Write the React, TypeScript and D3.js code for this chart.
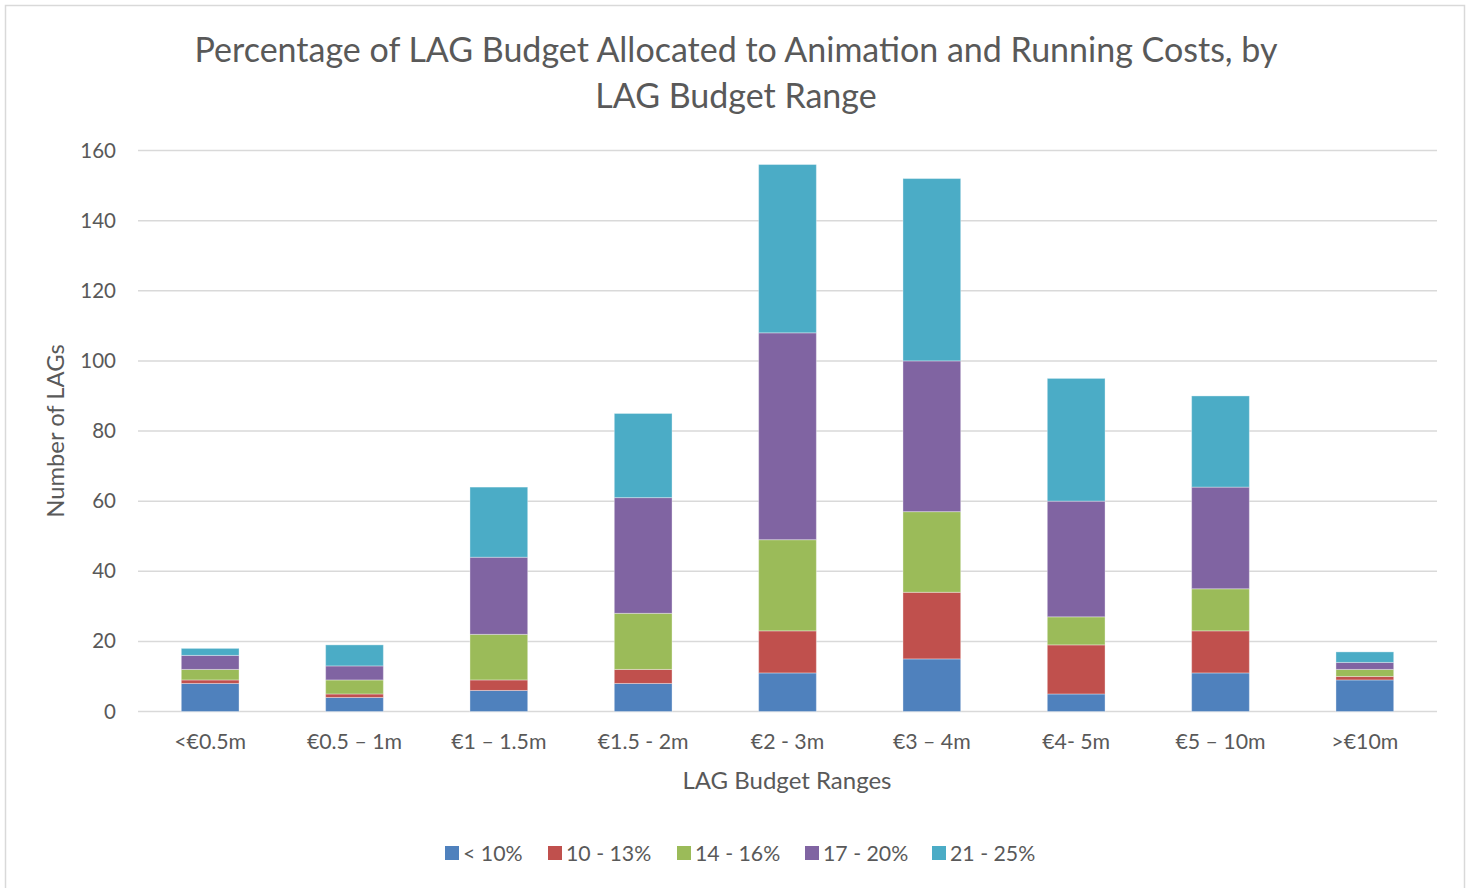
import React from "react";
import * as d3 from "d3";

const categories = ["<€0.5m", "€0.5 – 1m", "€1 – 1.5m", "€1.5 - 2m", "€2 - 3m", "€3 – 4m", "€4- 5m", "€5 – 10m", ">€10m"];
const seriesNames = ["< 10%", "10 - 13%", "14 - 16%", "17 - 20%", "21 - 25%"];
const seriesColors = ["#4f81bd", "#c0504d", "#9bbb59", "#8064a2", "#4bacc6"];
const lt10 = [8, 4, 6, 8, 11, 15, 5, 11, 9];
const s10to13 = [1, 1, 3, 4, 12, 19, 14, 12, 1];
const s14to16 = [3, 4, 13, 16, 26, 23, 8, 12, 2];
const s17to20 = [4, 4, 22, 33, 59, 43, 33, 29, 2];
const s21to25 = [2, 6, 20, 24, 48, 52, 35, 26, 3];
const yTicks = [0, 20, 40, 60, 80, 100, 120, 140, 160];

const W = 1470, H = 888;
const plot = { left: 138, right: 1437, top: 150.5, bottom: 711.5 };
const FONT = "Lato, 'Open Sans', sans-serif";
const TXT = "#595959";

export default function App() {
  const seriesData = [lt10, s10to13, s14to16, s17to20, s21to25];
  const rows = categories.map((c, i) => {
    const r: any = { cat: c };
    seriesNames.forEach((s, j) => (r[s] = seriesData[j][i]));
    return r;
  });
  const stack = d3.stack().keys(seriesNames)(rows as any);
  const x = d3.scaleBand().domain(categories).range([plot.left, plot.right]).paddingInner(0.6).paddingOuter(0.3);
  const y = d3.scaleLinear().domain([0, 160]).range([plot.bottom, plot.top]);

  const legendItems = seriesNames.map((s, i) => ({ s, i }));
  const legendX = [445, 548, 677, 805, 932];

  return (
    <div style={{ position: "absolute", left: 0, top: 0 }}>
      <svg width={W} height={H} style={{ display: "block", background: "#fff" }}>
        <rect x={5.5} y={5.5} width={1459} height={890} fill="#fff" stroke="#d9d9d9" strokeWidth={1.5} />
        <text x={736} y={62} textAnchor="middle" fontFamily={FONT} fontSize={34} fill={TXT}>
          Percentage of LAG Budget Allocated to Animation and Running Costs, by
        </text>
        <text x={736} y={108} textAnchor="middle" fontFamily={FONT} fontSize={34} fill={TXT}>
          LAG Budget Range
        </text>
        {yTicks.map((t) => (
          <g key={t}>
            <line x1={plot.left} x2={plot.right} y1={y(t)} y2={y(t)} stroke="#d9d9d9" strokeWidth={1.5} />
            <text x={116} y={y(t) + 7} textAnchor="end" fontFamily={FONT} fontSize={20.5} fill={TXT}>
              {t}
            </text>
          </g>
        ))}
        {stack.map((layer, j) => (
          <g key={j} fill={seriesColors[j]}>
            {layer.map((d: any, i: number) => (
              <rect
                key={i}
                x={x(categories[i])}
                width={x.bandwidth()}
                y={y(d[1])}
                height={Math.max(0, y(d[0]) - y(d[1]))}
                stroke="#ffffff"
                strokeOpacity={0.35}
                strokeWidth={1}
              />
            ))}
          </g>
        ))}
        {categories.map((c) => (
          <text key={c} x={(x(c) as number) + x.bandwidth() / 2} y={749} textAnchor="middle" fontFamily={FONT} fontSize={21.3} fill={TXT}>
            {c}
          </text>
        ))}
        <text x={787} y={789} textAnchor="middle" fontFamily={FONT} fontSize={24} fill={TXT}>
          LAG Budget Ranges
        </text>
        <text transform="translate(64,431) rotate(-90)" textAnchor="middle" fontFamily={FONT} fontSize={23.8} fill={TXT}>
          Number of LAGs
        </text>
        {legendItems.map(({ s, i }) => (
          <g key={s} transform={`translate(${legendX[i]},846)`}>
            <rect x={0} y={0} width={14} height={14} fill={seriesColors[i]} />
            <text x={18} y={14.5} fontFamily={FONT} fontSize={21.3} fill={TXT}>
              {s}
            </text>
          </g>
        ))}
      </svg>
    </div>
  );
}
